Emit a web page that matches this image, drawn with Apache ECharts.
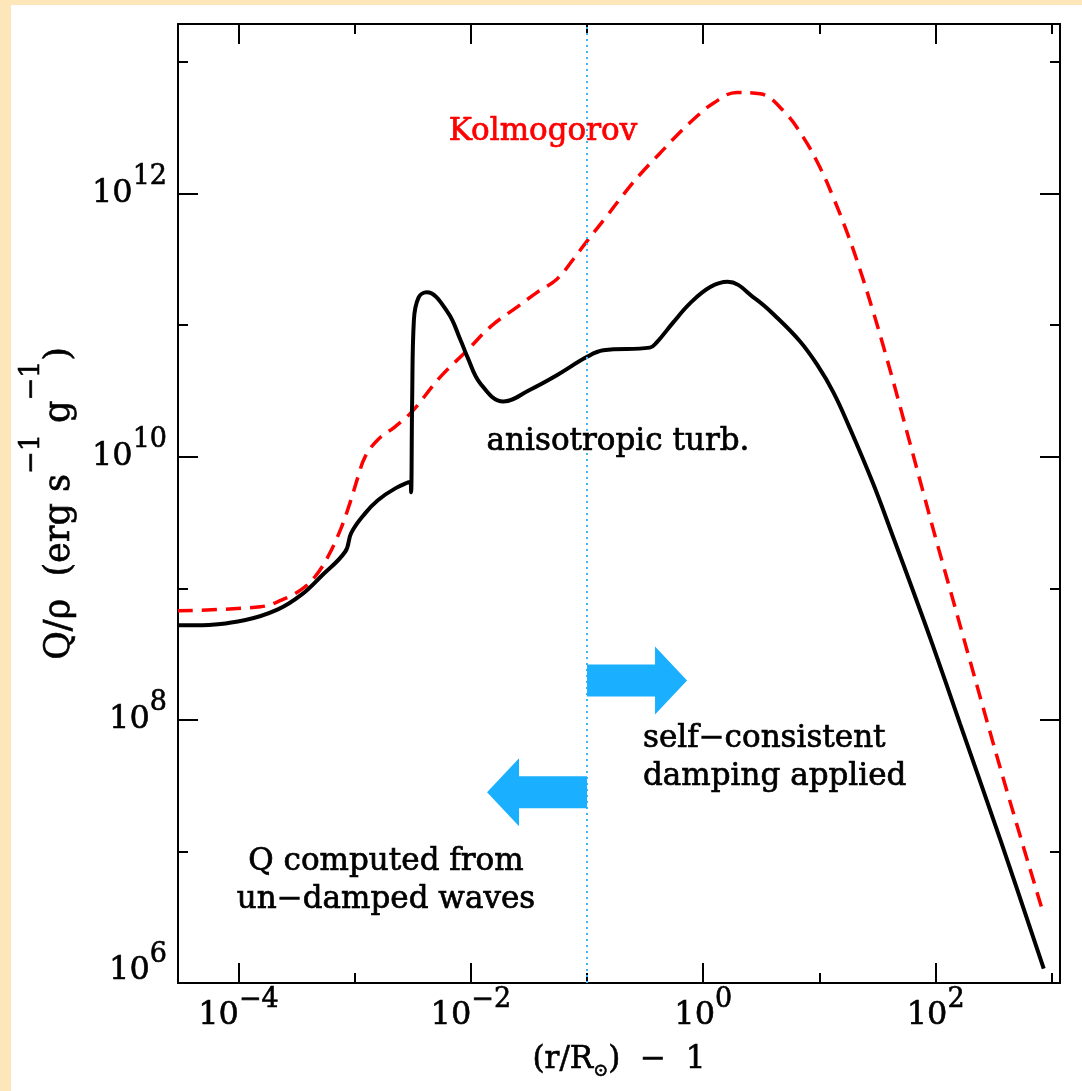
<!DOCTYPE html>
<html>
<head>
<meta charset="utf-8">
<title>Q/rho vs height</title>
<script src="https://cdn.jsdelivr.net/npm/echarts@6/dist/echarts.min.js"></script>
<style>
html, body { margin: 0; padding: 0; width: 1082px; height: 1091px; overflow: hidden; background: #fde6b9; }
#chart { position: absolute; left: 11px; top: 5px; width: 1071px; height: 1086px; background: #fff; }
</style>
</head>
<body>
<div id="chart"></div>
<script>
// values, as log10 of (r/Rsun - 1) and log10 of Q/rho
const blackX = [-4.52, -4.37, -3.94, -3.66, -3.46, -3.29, -3.08, -3.03, -2.91, -2.80, -2.65, -2.52, -2.514, -2.505, -2.49, -2.45, -2.38, -2.20, -2.09, -2.03, -1.92, -1.72, -1.49, -1.26, -1.00, -0.86, -0.46, -0.40, -0.26, -0.11, 0.06, 0.21, 0.45, 0.62, 0.83, 0.98, 1.12, 1.26, 1.46, 1.63, 1.81, 1.97, 2.21, 2.56, 2.93];
const blackY = [8.72, 8.72, 8.76, 8.84, 8.95, 9.09, 9.28, 9.42, 9.57, 9.67, 9.76, 9.81, 9.73, 10.43, 11.04, 11.21, 11.25, 11.10, 10.89, 10.76, 10.56, 10.42, 10.51, 10.62, 10.76, 10.81, 10.83, 10.87, 11.02, 11.17, 11.29, 11.33, 11.20, 11.07, 10.88, 10.70, 10.49, 10.22, 9.80, 9.40, 8.97, 8.58, 7.97, 7.08, 6.11];

const redX = [-4.52, -3.81, -3.63, -3.46, -3.34, -3.23, -3.12, -3.04, -2.97, -2.91, -2.80, -2.65, -2.51, -2.26, -2.03, -1.83, -1.60, -1.43, -1.26, -1.12, -1.00, -0.83, -0.69, -0.54, -0.37, -0.23, -0.09, 0.09, 0.29, 0.49, 0.69, 0.86, 1.01, 1.12, 1.24, 1.35, 1.46, 1.55, 1.67, 1.78, 1.89, 2.01, 2.15, 2.27, 2.60, 2.93];
const redY = [8.83, 8.86, 8.91, 8.99, 9.09, 9.24, 9.45, 9.65, 9.85, 10.00, 10.13, 10.23, 10.34, 10.61, 10.81, 10.99, 11.14, 11.25, 11.35, 11.50, 11.64, 11.83, 11.99, 12.15, 12.31, 12.44, 12.56, 12.69, 12.77, 12.76, 12.63, 12.43, 12.19, 11.97, 11.70, 11.42, 11.11, 10.84, 10.46, 10.10, 9.74, 9.35, 8.91, 8.53, 7.50, 6.52];

const majorX = [-4, -2, 0, 2];
const minorX = [-3, -1, 1, 3];
const majorY = [6, 8, 10, 12];
const minorY = [7, 9, 11, 13];

const dampingEdge = -1;          // r/Rsun - 1 = 0.1
const arrowSpots = [[-1, 8.30, 1], [-1, 7.45, -1]];  // x, y, direction

const serif = "'DejaVu Serif', 'Liberation Serif', serif";

const expLabel = v => {
  const n = Math.round(v);
  return '{b|10}{s|' + (n < 0 ? '\u2212' + (-n) : n) + '}';
};
const labelRich = {
  b: { fontFamily: serif, fontSize: 32, color: '#000', lineHeight: 60, verticalAlign: 'middle', textBorderColor: '#000', textBorderWidth: 0.6 },
  s: { fontFamily: serif, fontSize: 27, color: '#000', lineHeight: 28, verticalAlign: 'top', textBorderColor: '#000', textBorderWidth: 0.6 }
};

const makeAxis = (pos, ticks, len, main) => ({
  type: 'value',
  position: pos,
  min: (pos === 'bottom' || pos === 'top') ? -4.52 : 6,
  max: (pos === 'bottom' || pos === 'top') ? 3.07 : 13.29,
  axisLine: { show: main, onZero: false, lineStyle: { color: '#000', width: 2 } },
  axisTick: { show: true, inside: true, length: len, customValues: ticks, lineStyle: { color: '#000', width: 2 } },
  axisLabel: { show: false },
  splitLine: { show: false }
});

const xAxes = [
  makeAxis('bottom', majorX, 20, true),
  makeAxis('bottom', minorX, 10, false),
  makeAxis('top', majorX, 20, true),
  makeAxis('top', minorX, 10, false)
];
xAxes[0].axisLabel = { show: true, customValues: majorX, margin: 3, formatter: expLabel, rich: labelRich };
xAxes[0].name = '(r/R{sub|\u2299})  \u2212  1';
xAxes[0].nameLocation = 'middle';
xAxes[0].nameGap = 57;
xAxes[0].nameMoveOverlap = false;
xAxes[0].nameTextStyle = {
  fontFamily: serif, fontSize: 31, color: '#000', lineHeight: 40, textBorderColor: '#000', textBorderWidth: 0.6,
  rich: { sub: { fontFamily: serif, fontSize: 18, color: '#000', lineHeight: 20, verticalAlign: 'bottom' } }
};

const yAxes = [
  makeAxis('left', majorY, 20, true),
  makeAxis('left', minorY, 10, false),
  makeAxis('right', majorY, 20, true),
  makeAxis('right', minorY, 10, false)
];
// the lowest label sits a little above its tick, as in the original
yAxes[0].axisLabel = { show: true, customValues: majorY.slice(1), margin: 11, formatter: expLabel, rich: labelRich };
yAxes[1].axisLabel = { show: true, customValues: majorY.slice(0, 1), margin: 11, padding: [0, 0, 24, 0], formatter: expLabel, rich: labelRich };
yAxes[0].name = 'Q/\u03c1  (erg s{sup|\u22121} g{sup|\u22121})';
yAxes[0].nameLocation = 'middle';
yAxes[0].nameGap = 76;
yAxes[0].nameMoveOverlap = false;
yAxes[0].nameTextStyle = {
  fontFamily: serif, fontSize: 35, color: '#000', lineHeight: 84, textBorderColor: '#000', textBorderWidth: 0.6,
  rich: { sup: { fontFamily: serif, fontSize: 27, color: '#000', lineHeight: 27, verticalAlign: 'top' } }
};

const annText = (x, y, text, color, align) => ({
  type: 'text', x: x, y: y, silent: true, z: 10,
  style: { text: text, fill: color, stroke: color, lineWidth: 0.7, font: '31px ' + serif, align: align, verticalAlign: 'middle', lineHeight: 38 }
});

const chart = echarts.init(document.getElementById('chart'), null, { renderer: 'canvas' });
chart.setOption({
  animation: false,
  backgroundColor: '#fff',
  grid: { left: 167, top: 19, right: 22, bottom: 108, outerBoundsMode: 'none' },
  xAxis: xAxes,
  yAxis: yAxes,
  series: [
    {
      name: 'Kolmogorov',
      type: 'line',
      data: redX.map((x, i) => [x, redY[i]]),
      showSymbol: false,
      smooth: 0.4,
      lineStyle: { color: '#ff0000', width: 3.5, type: [15, 9] },
      z: 3
    },
    {
      name: 'anisotropic turb.',
      type: 'line',
      data: blackX.map((x, i) => [x, blackY[i]]),
      showSymbol: false,
      smooth: 0.4,
      lineStyle: { color: '#000', width: 4 },
      z: 4,
      markLine: {
        silent: true,
        symbol: 'none',
        label: { show: false },
        lineStyle: { color: '#3cb6f2', width: 2, type: [2, 4] },
        data: [{ xAxis: dampingEdge }]
      }
    },
    {
      type: 'custom',
      data: arrowSpots,
      silent: true,
      z: 5,
      encode: { x: 0, y: 1 },
      renderItem: (params, api) => {
        const p = api.coord([api.value(0), api.value(1)]);
        const d = api.value(2);
        const body = 68 * d, tip = 100 * d, bh = 16, hh = 34;
        return {
          type: 'polygon',
          shape: { points: [
            [p[0], p[1] - bh], [p[0] + body, p[1] - bh], [p[0] + body, p[1] - hh],
            [p[0] + tip, p[1]], [p[0] + body, p[1] + hh], [p[0] + body, p[1] + bh], [p[0], p[1] + bh]
          ] },
          style: { fill: '#1ab0ff' }
        };
      }
    }
  ],
  graphic: [
    annText(532, 127, 'Kolmogorov', '#ff0000', 'center'),
    annText(607, 437, 'anisotropic turb.', '#000', 'center'),
    annText(632, 753, 'self\u2212consistent\ndamping applied', '#000', 'left'),
    annText(375, 876, 'Q computed from\nun\u2212damped waves', '#000', 'center')
  ]
});
</script>
</body>
</html>
